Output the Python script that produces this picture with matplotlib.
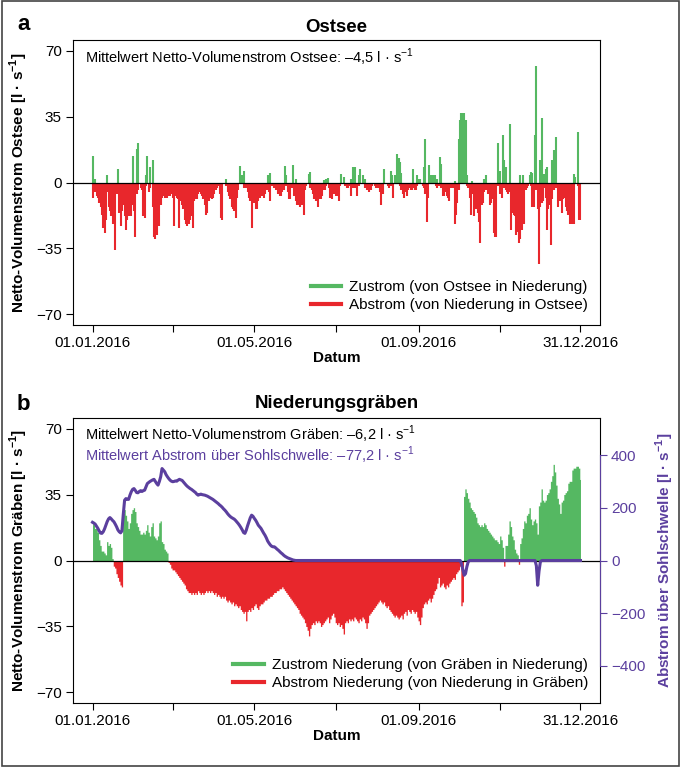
import matplotlib
matplotlib.use("Agg")
import matplotlib.pyplot as plt
from matplotlib.patches import Rectangle
from matplotlib.lines import Line2D
import numpy as np

plt.rcParams['font.family'] = ['Liberation Sans', 'DejaVu Sans']
plt.rcParams['mathtext.fontset'] = 'custom'
plt.rcParams['mathtext.rm'] = 'Liberation Sans'
plt.rcParams['mathtext.bf'] = 'Liberation Sans:bold'

GREEN = '#55b862'
RED = '#e8272c'
PURPLE = '#5b3f9e'

# x axis: day of year 2016 (0 = 01.01.2016, 365 = 31.12.2016)
TICK_DAYS = [0, 60, 121, 182, 244, 305, 365]
TICK_LABELS = ['01.01.2016', '', '01.05.2016', '', '01.09.2016', '', '31.12.2016']

# Ostsee: daily outflow (negative), l/s
OSTSEE_ABSTROM = [
    -8, -2, -5, -7, -8, -11, -13, -17, -24, -27,
    -20, -5, -13, -15, -18, -22, -12, -36, -6, -4,
    -16, -23, -15, -12, -18, -25, -20, -18, -14, -18,
    -12, -15, -29, -6, -4, -1, -3, -4, -18, -19,
    -2, -1, -5, -3, -1, -13, -29, -30, -28, -22,
    -23, -12, -8, -7, -8, -7, -8, -7, -7, -6,
    -8, -23, -7, -8, -9, -24, -10, -12, -14, -20,
    -22, -23, -22, -20, -18, -24, -10, -9, -9, -6,
    -5, -6, -7, -9, -12, -17, -16, -10, -8, -9,
    -8, -6, -4, -3, -2, -6, -19, -20, -1, -1,
    -2, -5, -7, -9, -13, -14, -15, -19, -8, -4,
    -1, -1, -1, -3, -1, -3, -5, -8, -10, -24,
    -8, -11, -14, -14, -10, -8, -7, -7, -8, -6,
    -4, -4, -5, -10, -2, -2, -3, -4, -4, -6,
    -7, -7, -5, -4, -2, -2, -5, -9, -9, -3,
    -2, -7, -10, -12, -12, -13, -11, -12, -17, -4,
    -2, -1, -1, -3, -4, -6, -9, -10, -8, -13,
    -9, -9, -7, -4, -4, -2, -1, -3, -8, -9,
    -6, -6, -7, -7, -10, -2, -1, -1, -1, -2,
    -3, -3, -2, -7, -3, -3, -3, -3, -7, -2,
    -1, -1, -1, -1, -3, -4, -4, -5, -4, -2,
    -1, -2, -3, -3, -3, -5, -12, -6, -1, -1,
    -1, -2, -3, -2, -1, -8, -1, -1, -1, -1,
    -2, -4, -6, -8, -5, -7, -4, -3, -4, -4,
    -3, -4, -4, -2, -1, -1, -1, -2, -3, -6,
    -21, -8, -1, -1, -1, -1, -1, -2, -3, -2,
    -2, -3, -7, -7, -5, -7, -8, -10, -3, -3,
    -3, -22, -17, -11, -4, -1, -1, -1, -1, -1,
    -2, -3, -8, -17, -6, -18, -14, -14, -16, -21,
    -32, -12, -11, -5, -4, -4, -6, -12, -11, -9,
    -27, -29, -29, -2, -2, -6, -8, -3, -3, -4,
    -5, -6, -5, -25, -16, -17, -18, -28, -26, -32,
    -30, -25, -11, -22, -4, -3, -2, -1, -2, -13,
    -13, -2, -4, -14, -43, -13, -11, -10, -3, -8,
    -25, -14, -12, -33, -9, -4, -3, -3, -13, -6,
    -10, -16, -9, -8, -13, -15, -17, -22, -17, -22,
    -22, -1, -1, -2, -20, -20,
]

# Ostsee: days with inflow and their values, l/s
OSTSEE_ZUSTROM_DAYS = [
    0, 2, 11, 19, 30, 33, 34, 40, 41, 43, 45, 100, 110, 112, 113,
    131, 133, 144, 145, 150, 152, 162, 163, 173, 175, 176, 186, 188, 193,
    195, 196, 199, 200, 202, 204, 218, 223, 224, 226, 228, 229, 230, 231,
    240, 243, 244, 245, 248, 249, 252, 253, 255, 256, 258, 260, 261, 271,
    274, 275, 276, 277, 278, 279, 280, 284, 293, 294, 303, 304, 305, 307,
    308, 309, 312, 320, 322, 327, 328, 329, 331, 332, 335, 336, 338, 339,
    340, 344, 345, 347, 360, 361, 363,
]
OSTSEE_ZUSTROM = [
    14, 2, 4, 7, 14, 18, 21, 4, 14, 8, 12, 2, 8.5, 4, 6,
    4, 5, 8.5, 4, 9.5, 2, 4.5, 5.5, 1.5, 2, 2.5, 4.5, 3, 2,
    8, 8, 4, 7, 4, 2, 7, 6, 4, 4, 15, 13, 11, 5,
    7, 4, 2, 2, 8, 23, 9.5, 4, 4, 4, 2, 13.5, 10, 1,
    23, 33, 37, 37, 37, 33, 4, 1, 2, 4, 21, 4, 6, 25,
    12, 8, 31, 4, 4, 4, 5.5, 5, 25, 62, 12, 34, 4.5, 7,
    8, 12, 17, 24, 4.5, 3, 27,
]

# Niederungsgraeben: daily net flow, l/s
GRAEBEN_NETTO = [
    20, 19, 17, 17, 15, 11, 8, 5, 5, 4,
    3, 10, 8, 9, 7, 1, -3, -4, -7, -9,
    -11, -13, -14, 25, 27, 24, 21, 17, 20, 25,
    27, 28, 26, 20, 18, 16, 14, 14, 15, 14,
    16, 19, 15, 13, 18, 20, 13, 12, 11, 13,
    20, 21, 10, 9, 6, 5, 4, -1, -2, -4,
    -5, -5, -6, -7, -8, -9, -10, -11, -12, -13,
    -15, -16, -17, -17, -18, -17, -18, -17, -18, -16,
    -17, -18, -17, -18, -17, -16, -17, -16, -17, -16,
    -17, -18, -17, -19, -18, -19, -20, -19, -20, -19,
    -21, -22, -21, -22, -23, -22, -24, -23, -24, -25,
    -24, -26, -27, -28, -27, -32, -27, -26, -27, -25,
    -26, -24, -23, -25, -26, -24, -23, -23, -22, -21,
    -21, -20, -20, -19, -19, -18, -17, -17, -16, -16,
    -15, -15, -14, -15, -16, -17, -18, -19, -20, -21,
    -22, -23, -24, -25, -26, -28, -29, -30, -31, -33,
    -35, -37, -40, -36, -34, -33, -34, -32, -33, -32,
    -33, -35, -34, -33, -32, -31, -30, -33, -31, -29,
    -28, -30, -33, -34, -33, -35, -34, -36, -39, -33,
    -32, -33, -31, -32, -31, -32, -30, -31, -32, -33,
    -31, -32, -30, -31, -33, -36, -33, -29, -28, -27,
    -26, -25, -24, -23, -22, -21, -22, -23, -22, -24,
    -25, -24, -26, -27, -28, -29, -30, -29, -30, -31,
    -30, -29, -31, -28, -27, -29, -26, -27, -28, -26,
    -27, -28, -27, -30, -32, -34, -30, -25, -23, -22,
    -23, -21, -20, -22, -20, -18, -16, -15, -12, -9,
    -14, -13, -12, -14, -15, -13, -14, -12, -11, -10,
    -9, -10, -7, -6, -5, -3, -24, -22, 34, 38,
    36, 33, 31, 28, 27, 26, 25, 23, 20, 19,
    18, 19, 18, 20, 19, 17, 16, 15, 14, 13,
    12, 11, 11, 10, 9, 13, 11, 7, -3, 8,
    8, 14, 21, 18, 13, 11, 6, 4, 3, -2,
    9, 12, 17, 21, 20, 24, 25, 28, 22, 19,
    21, 22, 20, 14, 29, 31, 38, 32, 31, 32,
    35, 36, 38, 42, 45, 51, 47, 40, 33, 30,
    25, 31, 32, 35, 36, 37, 41, 42, 42, 48,
    49, 49, 50, 50, 49, 43,
]

# Abstrom ueber Sohlschwelle (right axis), l/s
SOHLSCHWELLE = (
    [145, 142, 138, 130, 122, 112, 104, 103, 109, 120,
     134, 148, 158, 163, 158, 152, 147, 138, 128, 116,
     109, 105, 112, 175, 229, 235, 232, 232, 248, 261,
     270, 273, 266, 258, 257, 262, 265, 262, 265, 267,
     280, 292, 296, 300, 303, 306, 308, 300, 292, 286,
     300, 318, 349, 343, 337, 326, 318, 311, 305, 301,
     299, 300, 302, 301, 305, 308, 306, 304, 298, 292,
     286, 281, 277, 273, 270, 266, 262, 258, 252, 248,
     250, 252, 250, 249, 248, 246, 244, 241, 238, 235,
     232, 228, 224, 220, 216, 211, 207, 202, 196, 191,
     185, 178, 172, 167, 163, 160, 157, 152, 146, 140,
     133, 125, 116, 106, 103, 115, 132, 147, 162, 172,
     168, 160, 153, 144, 134, 128, 122, 113, 104, 96,
     86, 74, 66, 59, 54, 52, 52, 48, 43, 39,
     34, 29, 25, 20, 16, 13, 10, 8, 6, 4,
     2, 1]
    + [0] * 124
    + [-11, -35, -56, -50, -24, -5]
    + [0] * 50
    + [-20, -94, -40, -5]
    + [0] * 30
)

UNIT = r'l · s$^{\mathregular{-1}}$'
UNIT_BF = r'l · s$^{\mathbf{-1}}$'


def style_axis(ax):
    ax.set_xlim(-14.6, 379.6)
    ax.set_ylim(-75.6, 75.6)
    ax.set_yticks([-70, -35, 0, 35, 70])
    ax.set_xticks(TICK_DAYS)
    ax.set_xticklabels(TICK_LABELS)
    ax.tick_params(direction='out', length=5, width=0.8, labelsize=11, pad=3)
    for sp in ax.spines.values():
        sp.set_linewidth(0.8)
    ax.axhline(0, color='black', lw=0.9, zorder=4)
    ax.set_xlabel('Datum', fontsize=11, fontweight='bold', labelpad=1)


def main():
    fig = plt.figure(figsize=(6.85, 7.67), dpi=100)
    fig.add_artist(Rectangle((2 / 685, 1 - 766 / 767), 677 / 685, 765 / 767,
                             transform=fig.transFigure, fill=False,
                             edgecolor='#444444', lw=1.2))

    # ---- panel a: Ostsee ----
    ax1 = fig.add_axes([73 / 685, 1 - 325 / 767, 527 / 685, 285 / 767])
    days = np.arange(len(OSTSEE_ABSTROM))
    ax1.vlines(days, 0, OSTSEE_ABSTROM, color=RED, lw=1.5)
    ax1.vlines(OSTSEE_ZUSTROM_DAYS, 0, OSTSEE_ZUSTROM, color=GREEN, lw=1.5)
    style_axis(ax1)
    ax1.set_ylabel('Netto-Volumenstrom Ostsee [' + UNIT_BF + ']',
                   fontsize=11, fontweight='bold', labelpad=4)
    ax1.set_title('Ostsee', fontsize=13.4, fontweight='bold', pad=6)
    ax1.text(0.023, 0.94, 'Mittelwert Netto-Volumenstrom Ostsee: –4,5 ' + UNIT,
             transform=ax1.transAxes, fontsize=10.5, va='center')
    handles = [Line2D([], [], color=GREEN, lw=3), Line2D([], [], color=RED, lw=3)]
    ax1.legend(handles, ['Zustrom (von Ostsee in Niederung)',
                         'Abstrom (von Niederung in Ostsee)'],
               loc='lower right', bbox_to_anchor=(0.977, 0.045), frameon=False,
               fontsize=11, handlelength=2.0, handletextpad=0.5,
               labelspacing=0.25, borderpad=0, borderaxespad=0)
    fig.text(17 / 685, 1 - 24 / 767, 'a', fontsize=16, fontweight='bold', va='center')

    # ---- panel b: Niederungsgraeben ----
    ax2 = fig.add_axes([73 / 685, 1 - 703 / 767, 527 / 685, 285 / 767])
    netto = np.array(GRAEBEN_NETTO, dtype=float)
    days2 = np.arange(len(netto))
    ax2.fill_between(days2, 0, np.where(netto > 0, netto, 0), step='mid',
                     color=GREEN, linewidth=0)
    ax2.fill_between(days2, 0, np.where(netto < 0, netto, 0), step='mid',
                     color=RED, linewidth=0)
    style_axis(ax2)
    ax2.set_ylabel('Netto-Volumenstrom Gräben [' + UNIT_BF + ']',
                   fontsize=11, fontweight='bold', labelpad=4)
    ax2.set_title('Niederungsgräben', fontsize=13.4, fontweight='bold', pad=7)
    ax2.text(0.023, 0.944, 'Mittelwert Netto-Volumenstrom Gräben: –6,2 ' + UNIT,
             transform=ax2.transAxes, fontsize=10.5, va='center')
    ax2.text(0.023, 0.87, 'Mittelwert Abstrom über Sohlschwelle: –77,2 ' + UNIT,
             transform=ax2.transAxes, fontsize=10.5, va='center', color=PURPLE)
    ax2.legend(handles, ['Zustrom Niederung (von Gräben in Niederung)',
                         'Abstrom Niederung (von Niederung in Gräben)'],
               loc='lower right', bbox_to_anchor=(0.977, 0.045), frameon=False,
               fontsize=11, handlelength=2.0, handletextpad=0.5,
               labelspacing=0.25, borderpad=0, borderaxespad=0)
    fig.text(17 / 685, 1 - 404 / 767, 'b', fontsize=16, fontweight='bold', va='center')

    ax3 = ax2.twinx()
    ax3.plot(np.arange(len(SOHLSCHWELLE)), SOHLSCHWELLE, color=PURPLE, lw=2.2,
             solid_joinstyle='round', zorder=5)
    ax3.set_ylim(-540.8, 540.8)
    ax3.set_yticks([-400, -200, 0, 200, 400])
    ax3.tick_params(direction='out', length=5, width=0.8, labelsize=11,
                    colors=PURPLE, pad=3)
    ax3.spines['right'].set_color(PURPLE)
    ax3.spines['right'].set_bounds(-400, 400)
    for sp in ['left', 'top', 'bottom']:
        ax3.spines[sp].set_visible(False)
    ax3.set_ylabel('Abstrom über Sohlschwelle [' + UNIT_BF + ']', fontsize=11,
                   fontweight='bold', color=PURPLE, labelpad=6)

    fig.savefig('out.png', dpi=100)


if __name__ == "__main__":
    main()
